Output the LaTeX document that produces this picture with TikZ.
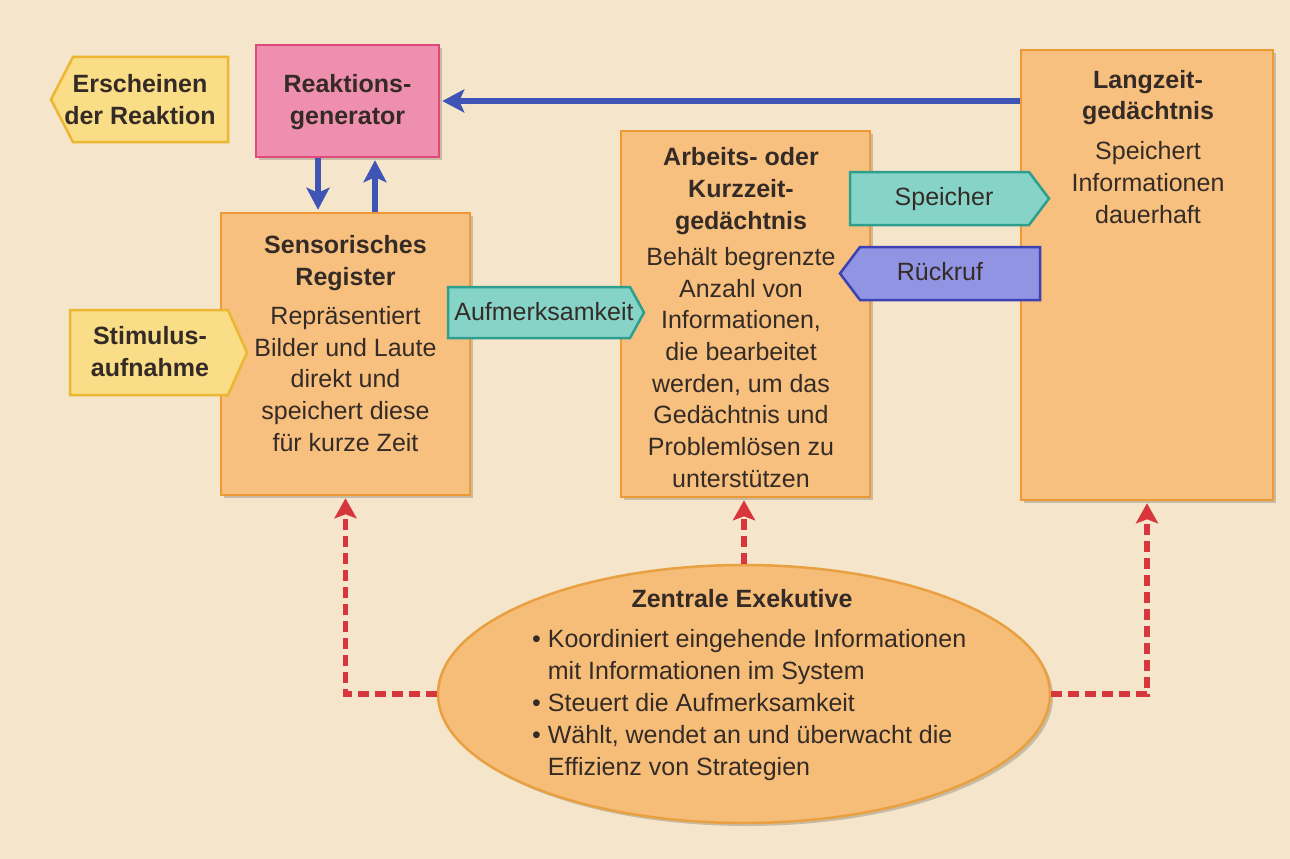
\documentclass[tikz,border=0pt]{standalone}
\usepackage{fontspec}
\setmainfont{Liberation Sans}
\usetikzlibrary{arrows.meta,shadows,shapes.geometric,calc}
\definecolor{bg}{HTML}{F4E5CB}
\definecolor{boxfill}{HTML}{F7C07E}
\definecolor{boxborder}{HTML}{EE9A34}
\definecolor{pinkfill}{HTML}{EF8FAF}
\definecolor{pinkborder}{HTML}{E0497C}
\definecolor{yelfill}{HTML}{FADD87}
\definecolor{yelborder}{HTML}{EDB630}
\definecolor{tealfill}{HTML}{86D4C8}
\definecolor{tealborder}{HTML}{2E9E8E}
\definecolor{purfill}{HTML}{9094E2}
\definecolor{purborder}{HTML}{3C42B4}
\definecolor{ellfill}{HTML}{F5BD78}
\definecolor{ellborder}{HTML}{E9A040}
\definecolor{arrowblue}{HTML}{3E55B6}
\definecolor{arrowred}{HTML}{D6363C}
\definecolor{txt}{HTML}{352B26}
\tikzset{
  shad/.style={drop shadow={shadow xshift=3pt,shadow yshift=-3pt,opacity=0.18,fill=black}},
  memrect/.style={draw=boxborder, fill=boxfill, line width=2.5pt, inner sep=0pt, shad},
  genrect/.style={draw=pinkborder, fill=pinkfill, line width=2.5pt, inner sep=0pt, shad},
  yeltag/.style={draw=yelborder, fill=yelfill, line width=2.5pt, line join=miter},
  tealtag/.style={draw=tealborder, fill=tealfill, line width=2.5pt},
  purtag/.style={draw=purborder, fill=purfill, line width=2.5pt},
  lbl/.style={text=txt, font=\fontsize{25}{31.7}\selectfont, align=center, inner sep=0pt, anchor=north},
  ttl/.style={lbl, font=\fontsize{25}{32}\selectfont\bfseries},
  blu/.style={draw=arrowblue, line width=6pt, -{Stealth[length=22pt,width=23pt,inset=5pt]}, shorten >=2pt},
  reddash/.style={draw=arrowred, line width=5.5pt, dash pattern=on 11pt off 6pt, -{Stealth[length=20pt,width=22pt,inset=4pt]}, shorten >=2pt},
}
\begin{document}
\begin{tikzpicture}[x=1pt,y=-1pt]
\useasboundingbox (0,0) rectangle (1290,859);
\fill[bg] (0,0) rectangle (1290,859);

% main boxes
\node[genrect, minimum width=183pt, minimum height=112pt] (rg) at (347.5,101) {};
\node[memrect, minimum width=249pt, minimum height=282pt] (sr) at (345.5,354) {};
\node[memrect, minimum width=249pt, minimum height=366pt] (wm) at (745.5,314) {};
\node[memrect, minimum width=252pt, minimum height=450pt] (lz) at (1147,275) {};
\node[ellipse, draw=ellborder, fill=ellfill, line width=2.5pt, inner sep=0pt,
      minimum width=612pt, minimum height=258pt, shad] (ze) at (744,694) {};

% tags
\draw[yeltag] (51,99.5) -- (73,57) -- (228,57) -- (228,142) -- (73,142) -- cycle;
\draw[yeltag] (70,310) -- (228,310) -- (247,352.5) -- (228,395) -- (70,395) -- cycle;
\draw[tealtag] (448,287) -- (630,287) -- (644,312.5) -- (630,338) -- (448,338) -- cycle;
\draw[tealtag] (850,172) -- (1029,172) -- (1049,198.5) -- (1029,225) -- (850,225) -- cycle;
\draw[purtag] (840,273.5) -- (860,247) -- (1040,247) -- (1040,300) -- (860,300) -- cycle;

% texts
\node[ttl] (rg-t) at (347.5,70) {\strut Reaktions-\\generator};
\node[ttl] (er-t) at (140,70) {\strut Erscheinen\\der Reaktion};
\node[ttl] (st-t) at (150,322) {\strut Stimulus-\\aufnahme};
\node[ttl] (sr-t) at (345.5,231) {\strut Sensorisches\\Register};
\node[lbl] (sr-b) at (345.5,302) {\strut Repräsentiert\\Bilder und Laute\\direkt und\\speichert diese\\für kurze Zeit};
\node[lbl] (am-t) at (544,298) {\strut Aufmerksamkeit};
\node[ttl] (wm-t) at (741,143) {\strut Arbeits- oder\\Kurzzeit-\\gedächtnis};
\node[lbl] (wm-b) at (741,243) {\strut Behält begrenzte\\Anzahl von\\Informationen,\\die bearbeitet\\werden, um das\\Gedächtnis und\\Problemlösen zu\\unterstützen};
\node[ttl, font=\fontsize{25}{30.5}\selectfont\bfseries] (lz-t) at (1148,67) {\strut Langzeit-\\gedächtnis};
\node[lbl, font=\fontsize{25}{32}\selectfont] (lz-b) at (1148,137) {\strut Speichert\\Informationen\\dauerhaft};
\node[lbl] (sp-t) at (944,183) {\strut Speicher};
\node[lbl] (rk-t) at (940,258) {\strut Rückruf};
\node[ttl] (ze-t) at (742,585) {\strut Zentrale Exekutive};
\node[lbl, align=left, anchor=north west, font=\fontsize{25}{32}\selectfont] (ze-b) at (532,625)
  {\strut\textbullet\ Koordiniert eingehende Informationen\\
   \hphantom{\textbullet\ }mit Informationen im System\\
   \textbullet\ Steuert die Aufmerksamkeit\\
   \textbullet\ Wählt, wendet an und überwacht die\\
   \hphantom{\textbullet\ }Effizienz von Strategien};

% blue connectors
\draw[blu] ([xshift=-29.5pt]rg.south) -- ([xshift=-29.5pt]rg.south |- sr.north);
\draw[blu] ([xshift=27.5pt]rg.south |- sr.north) -- ([xshift=27.5pt]rg.south);
\draw[blu] (lz.west |- rg.east) -- (rg.east);

% red dashed connectors
\draw[reddash] (ze.west) -| (sr.south);
\draw[reddash] (ze.north) -- (ze.north |- wm.south);
\draw[reddash] (ze.east) -| (lz.south);
\end{tikzpicture}
\end{document}
